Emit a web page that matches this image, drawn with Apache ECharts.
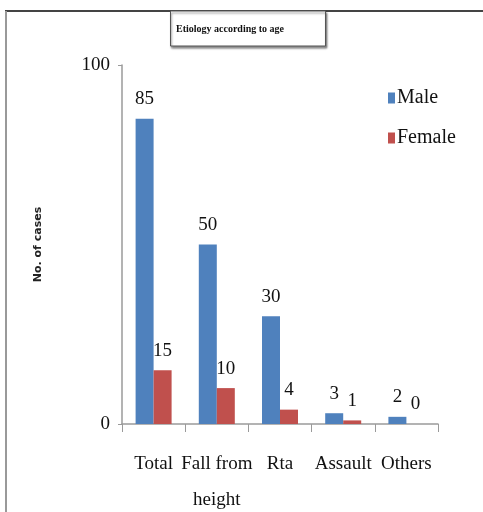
<!DOCTYPE html>
<html>
<head>
<meta charset="utf-8">
<script src="https://cdn.jsdelivr.net/npm/echarts@6/dist/echarts.min.js"></script>
<style>
  html, body { margin: 0; padding: 0; background: #fff; }
  #chart { width: 483px; height: 512px; }
</style>
</head>
<body>
<div id="chart"></div>
<script>
// Causes of injury, split by sex
const categories = ['Total', 'Fall from\nheight', 'Rta', 'Assault', 'Others'];
const maleCases = [85, 50, 30, 3, 2];
const femaleCases = [15, 10, 4, 1, 0];
const seriesNames = ['Male', 'Female'];
const titleText = 'Etiology according to age';
const yAxisName = 'No. of cases';

const serif = 'Liberation Serif';
const chart = echarts.init(document.getElementById('chart'), null, { renderer: 'canvas' });

const labelStyle = {
  show: true,
  position: 'top',
  distance: 10,
  fontFamily: serif,
  fontSize: 19,
  color: '#111'
};

chart.setOption({
  animation: false,
  backgroundColor: '#fff',
  graphic: [
    // outer frame: top and left edges
    { type: 'line', shape: { x1: 5, y1: 11, x2: 483, y2: 11 }, style: { stroke: '#444', lineWidth: 2 } },
    { type: 'line', shape: { x1: 6, y1: 11, x2: 6, y2: 512 }, style: { stroke: '#999', lineWidth: 2 } },
    // boxed heading
    {
      type: 'rect',
      shape: { x: 170.5, y: 11, width: 155, height: 35 },
      style: { fill: '#fff', stroke: '#555', lineWidth: 1, shadowColor: 'rgba(0,0,0,0.45)', shadowOffsetX: 1, shadowOffsetY: 2, shadowBlur: 2 },
      z: 10
    },
    {
      type: 'text',
      x: 176, y: 29,
      style: { text: titleText, fontFamily: serif, fontWeight: 'bold', fontSize: 10, fill: '#111', verticalAlign: 'middle' },
      z: 11
    }
  ],
  legend: {
    orient: 'vertical',
    left: 383,
    top: 83,
    itemWidth: 7,
    itemHeight: 11,
    itemGap: 20,
    icon: 'rect',
    data: seriesNames,
    textStyle: { fontFamily: serif, fontSize: 20, color: '#111', padding: [0, 0, 0, -3] }
  },
  grid: { left: 122, right: 45, top: 65, bottom: 88, outerBoundsMode: 'none', containLabel: false },
  xAxis: {
    type: 'category',
    data: categories,
    axisLine: { lineStyle: { color: '#9a9a9a', width: 1.5 } },
    axisTick: { show: true, length: 8, lineStyle: { color: '#9a9a9a' } },
    axisLabel: { fontFamily: serif, fontSize: 19, color: '#111', margin: 22, lineHeight: 36, interval: 0 }
  },
  yAxis: {
    type: 'value',
    min: 0,
    max: 100,
    interval: 100,
    name: yAxisName,
    nameLocation: 'middle',
    nameGap: 78,
    nameRotate: 90,
    nameTextStyle: { fontFamily: 'DejaVu Sans', fontWeight: 'bold', fontSize: 11, color: '#222' },
    splitLine: { show: false },
    axisLine: { show: true, lineStyle: { color: '#9a9a9a', width: 1.5 } },
    axisTick: { show: true, length: 4, lineStyle: { color: '#9a9a9a' } },
    axisLabel: { fontFamily: serif, fontSize: 19, color: '#111', margin: 12 }
  },
  series: [
    {
      name: seriesNames[0],
      type: 'bar',
      data: maleCases,
      barWidth: 18,
      barGap: '0%',
      itemStyle: { color: '#4F81BD' },
      label: labelStyle
    },
    {
      name: seriesNames[1],
      type: 'bar',
      data: femaleCases,
      barWidth: 18,
      itemStyle: { color: '#C0504D' },
      label: labelStyle
    }
  ]
});
</script>
</body>
</html>
